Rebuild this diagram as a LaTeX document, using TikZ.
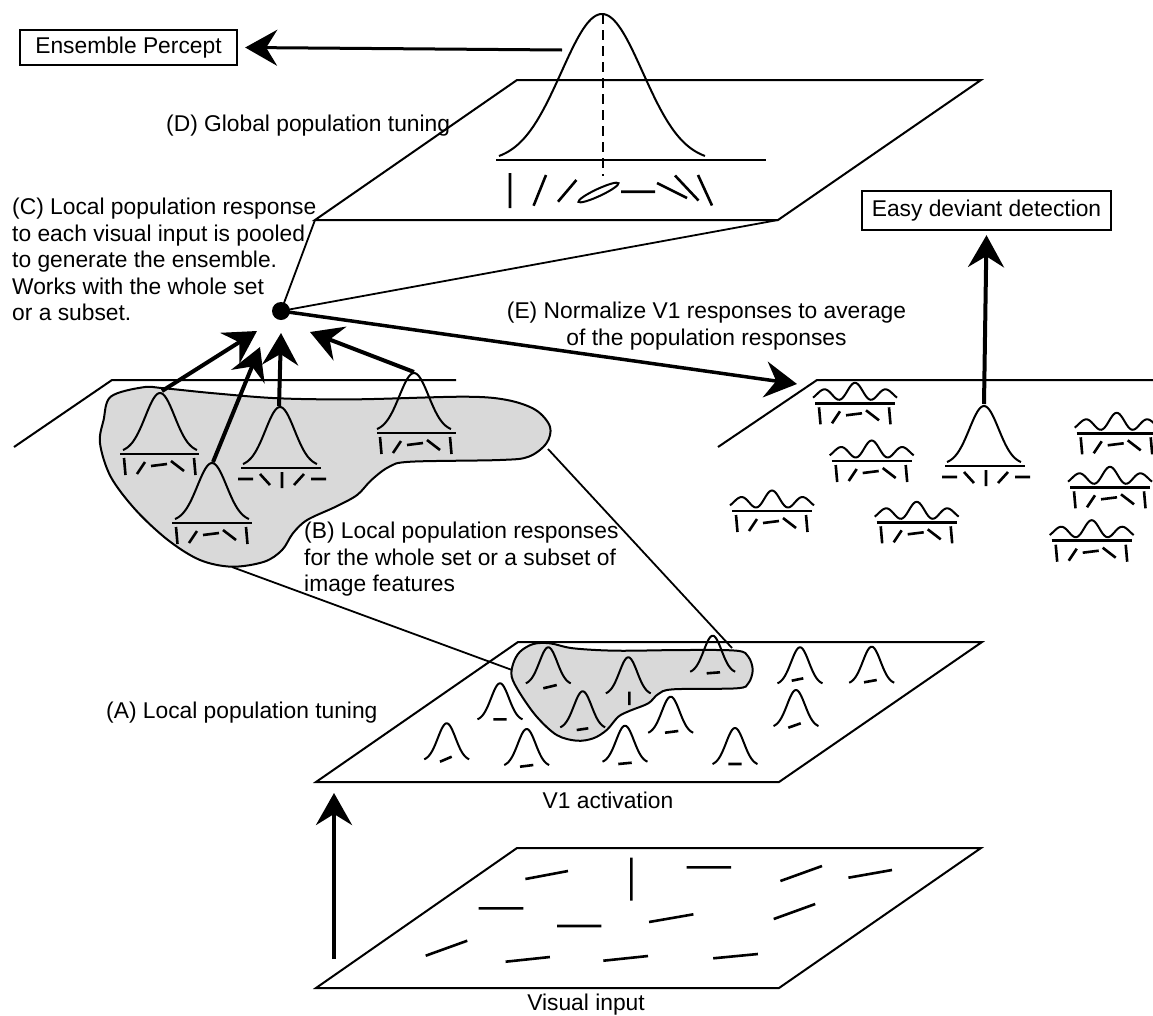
\documentclass[tikz,border=0pt]{standalone}
\usepackage{fontspec}
\setmainfont{Liberation Sans}
\usetikzlibrary{arrows.meta}
% gaussian: centre x, foot y, half width, height
\newcommand\gss[4]{\draw[gline] plot[domain=-1:1,samples=50,smooth] ({#1+#3*(\x)},{#2-#4*(exp(-3.2*(\x)*(\x))-0.0408)/0.9592});}
% bars | / - \ |
\newcommand\barsA[2]{\draw[obar] (#1-36,#2+4) -- (#1-34.5,#2+21) (#1-23,#2+20) -- (#1-15,#2+8) (#1-9,#2+12) -- (#1+7,#2+10) (#1+11,#2+7) -- (#1+24,#2+17) (#1+34,#2+4) -- (#1+35.5,#2+21);}
% bars - \ | / -
\newcommand\barsB[2]{\draw[obar] (#1-43,#2+11) -- (#1-28,#2+11) (#1-21,#2+6) -- (#1-11,#2+17) (#1+1,#2+4) -- (#1+1,#2+20) (#1+13,#2+17) -- (#1+23,#2+6) (#1+30,#2+11) -- (#1+45,#2+11);}
\newcommand\bline[2]{\draw[baseln] (#1-40,#2) -- (#1+40,#2);}
\newcommand\wav[2]{\draw[gline] plot[domain=-42:42,samples=61,smooth] ({#1+(\x)},{#2-3.5-(cos(11.25*(\x))+1)/2*17*exp(-(\x)*(\x)/2010)});}
\newcommand\wavset[2]{\wav{#1}{#2}\bline{#1}{#2}\barsA{#1}{#2}}
\begin{document}
\begin{tikzpicture}[x=1pt,y=-1pt,
  lbl/.style={font=\fontsize{22.8}{26.5}\selectfont, inner sep=0pt},
  plane/.style={line width=2pt, line join=miter},
  gline/.style={line width=2pt},
  obar/.style={line width=2.6pt},
  baseln/.style={line width=2.6pt},
  thinln/.style={line width=1.8pt},
  bigarrow/.style={line width=4pt, -{Stealth[length=32pt,width=36pt,inset=11pt]}},
  boxed/.style={draw, line width=2.4pt, inner sep=0pt, lbl},
  blob/.style={fill=black!15, draw, line width=2pt},
]
\useasboundingbox (0,0) rectangle (1153,1015);

% ---------- planes ----------
\draw[plane] (517,80) -- (981,80) -- (778,220) -- (315,220) -- cycle;
\draw[plane] (518,642) -- (982,642) -- (779,782) -- (316,782) -- cycle;
\draw[plane] (517,848) -- (981,848) -- (779,988) -- (316,988) -- cycle;
\draw[plane] (14,447) -- (112,380) -- (456,380);
\draw[plane] (718,447) -- (817,380) -- (1153,380);
\coordinate (tpBL) at (315,220);
\coordinate (tpBR) at (778,220);

% ---------- blobs ----------
\draw[blob] plot[smooth cycle, tension=0.55] coordinates {
 (110.7,396.7) (142.9,387.3) (164.3,388.3) (214.3,393.3) (278.6,398.3) (357.1,399.3)
 (464.3,396.7) (507.1,400) (535.7,410) (550,426.7) (546.4,443.3) (528.6,456.7)
 (500,460) (410.7,461.7) (389.3,466.7) (371.4,480) (357.1,495) (335.7,506.7)
 (307.1,520) (292.9,533.3) (282.1,550) (264.3,561.7) (232.1,566.7) (200,560)
 (167.9,540) (135.7,510) (110.7,476.7) (100,443.3) (103.6,420)};
\draw[blob] plot[smooth cycle, tension=0.55] coordinates {
 (513.3,663.3) (520,651.7) (533.3,644) (550,643.3) (573.3,648.3) (616.7,650.7)
 (683.3,650) (736.7,650.7) (748.3,656.7) (752.7,670) (748.3,683.3) (736.7,688.3)
 (673.3,689.3) (658.3,694) (648.3,703.3) (630,710.7) (618.3,716.7) (606.7,730)
 (593.3,738.3) (576.7,740.7) (556.7,735) (536.7,716.7) (520,693.3) (511.7,676.7)};

% blob connections
\coordinate (bBot) at (232,567);
\coordinate (vLeft) at (512,670);
\coordinate (bRight) at (548,449);
\coordinate (vRight) at (732,648);
\draw[thinln] (bBot) -- (vLeft);
\draw[thinln] (bRight) -- (vRight);

% ---------- top (global) tuning ----------
\gss{602}{156}{103}{142}
\draw[baseln] (496,160) -- (766,160);
\draw[gline, dash pattern=on 10pt off 6pt] (603,14) -- (603,176);
\draw[obar] (510,173) -- (510,208)
            (533.6,205.7) -- (546,175)
            (558,201.7) -- (576.4,180)
            (621,191.7) -- (655,191.7)
            (657,183) -- (687,198)
            (675,175.5) -- (698.5,200.5)
            (698,175) -- (712,205.5);
\draw[gline, rotate around={25:(598.5,192.5)}] (598.5,192.5) ellipse [x radius=22pt, y radius=3.6pt];

% ---------- local population responses (B) ----------
\gss{160}{450}{37}{57} \draw[baseln] (120,454) -- (199,454); \barsA{160}{454}
\gss{280}{464}{37}{57} \draw[baseln] (241,468) -- (321,468); \barsB{281}{468}
\gss{212}{519}{37}{56} \draw[baseln] (172,523) -- (252,523); \barsA{212}{523}
\gss{414}{429}{37}{56} \draw[baseln] (377,433) -- (456,433); \barsA{416}{433}

% ---------- right plane (E) ----------
\wavset{855}{403.3}
\wavset{871.7}{461}
\wavset{772}{511}
\wavset{916.7}{522.3}
\wavset{1116.7}{433.3}
\wavset{1110}{487.3}
\wavset{1091.7}{540.7}
\gss{984}{462}{37}{56} \draw[baseln] (945,466) -- (1025,466); \barsB{985}{466}

% ---------- V1 activation ----------
\gss{548.3}{683.3}{22.5}{36}
\gss{628.3}{693.3}{22.5}{36}
\gss{582.7}{727.3}{22.5}{36}
\gss{712.7}{671.7}{22.5}{36}
\gss{500}{719.3}{22.5}{36}
\gss{446.7}{759.3}{22.5}{36}
\gss{526.7}{765}{22.5}{36}
\gss{625}{761.7}{22.5}{36}
\gss{670.7}{732.7}{22.5}{36}
\gss{735}{764}{22.5}{36}
\gss{800}{683.3}{22.5}{36}
\gss{871.7}{682.7}{22.5}{36}
\gss{796}{726}{22.5}{36}
\draw[obar] (543.3,688.3) -- (556.7,685)
            (629.3,691.7) -- (629.3,705)
            (576.7,730) -- (588.3,728.3)
            (706.7,673.3) -- (720,672.3)
            (493.3,719.3) -- (506.7,719.3)
            (440,761.7) -- (451.7,756.7)
            (520,766.7) -- (533.3,765)
            (618.3,764) -- (631.7,762.7)
            (665,732.7) -- (678.3,731)
            (728.3,764) -- (741.7,764)
            (791.7,680.7) -- (803.3,678.3)
            (864,682.3) -- (876.7,680)
            (788.3,727.7) -- (800.7,723.3);

% ---------- visual input ----------
\draw[obar] (525.4,879) -- (568,871)
            (631.4,857.7) -- (631.4,900.7)
            (686.7,867.3) -- (731,867.3)
            (780.4,881) -- (822,866)
            (848.4,877.7) -- (892,870)
            (478.7,908.3) -- (523.4,908.3)
            (557,926) -- (601.3,926)
            (649.1,922) -- (693.4,914.3)
            (773.7,919) -- (815.2,904)
            (425.7,955.7) -- (467.3,940.7)
            (505.6,961.7) -- (549.9,957)
            (603.3,960.7) -- (648,956)
            (713.2,958.3) -- (757.9,954);

% ---------- pooling dot and connectors ----------
\node[circle, fill, inner sep=0pt, minimum size=18pt] (dot) at (281,311) {};
\draw[thinln] (dot.center) -- (tpBL);
\draw[thinln] (dot.center) -- (tpBR);
\coordinate (eTip) at (797,384);
\draw[bigarrow, line width=3.5pt] (dot.center) -- (eTip);

\coordinate (g1p) at (162,391);  \coordinate (g1t) at (257,331);
\coordinate (g2p) at (279,406);  \coordinate (g2t) at (281,333);
\coordinate (g3p) at (213,462);  \coordinate (g3t) at (260,347);
\coordinate (g4p) at (414,372);  \coordinate (g4t) at (310,332);
\draw[bigarrow] (g1p) -- (g1t);
\draw[bigarrow] (g2p) -- (g2t);
\draw[bigarrow] (g3p) -- (g3t);
\draw[bigarrow] (g4p) -- (g4t);

% ---------- boxes ----------
\node[boxed, minimum width=217pt, minimum height=35pt] (ep) at (128.5,47.5) {Ensemble Percept};
\node[boxed, minimum width=249pt, minimum height=39pt] (ed) at (986.5,210.5) {Easy deviant detection};
\coordinate (epStart) at (562,50);
\draw[bigarrow, line width=3pt] (epStart) -- ([xshift=7pt]ep.east);
\coordinate (rgPeak) at (984,404);
\draw[bigarrow] (rgPeak) -- ([yshift=-4pt]ed.south);
\coordinate (viA) at (334,959);
\coordinate (viB) at (334,793);
\draw[bigarrow] (viA) -- (viB);

% ---------- labels ----------
\node[lbl, anchor=base west] (dlab) at (166,131) {(D) Global population tuning};
\node[lbl, anchor=north west, align=left] (clab) at (12,198) {(C) Local population response\\to each visual input is pooled\\to generate the ensemble.\\Works with the whole set\\or a subset.};
\node[lbl, anchor=north, align=center] (elab) at (706.5,302) {(E) Normalize V1 responses to average\\of the population responses};
\node[lbl, anchor=north west, align=left] (blab) at (304,522) {(B) Local population responses\\for the whole set or a subset of\\image features};
\node[lbl, anchor=base west] (alab) at (106,718) {(A) Local population tuning};
\node[lbl, anchor=base] (v1lab) at (608,808) {V1 activation};
\node[lbl, anchor=base] (vilab) at (586,1010) {Visual input};
\end{tikzpicture}
\end{document}
